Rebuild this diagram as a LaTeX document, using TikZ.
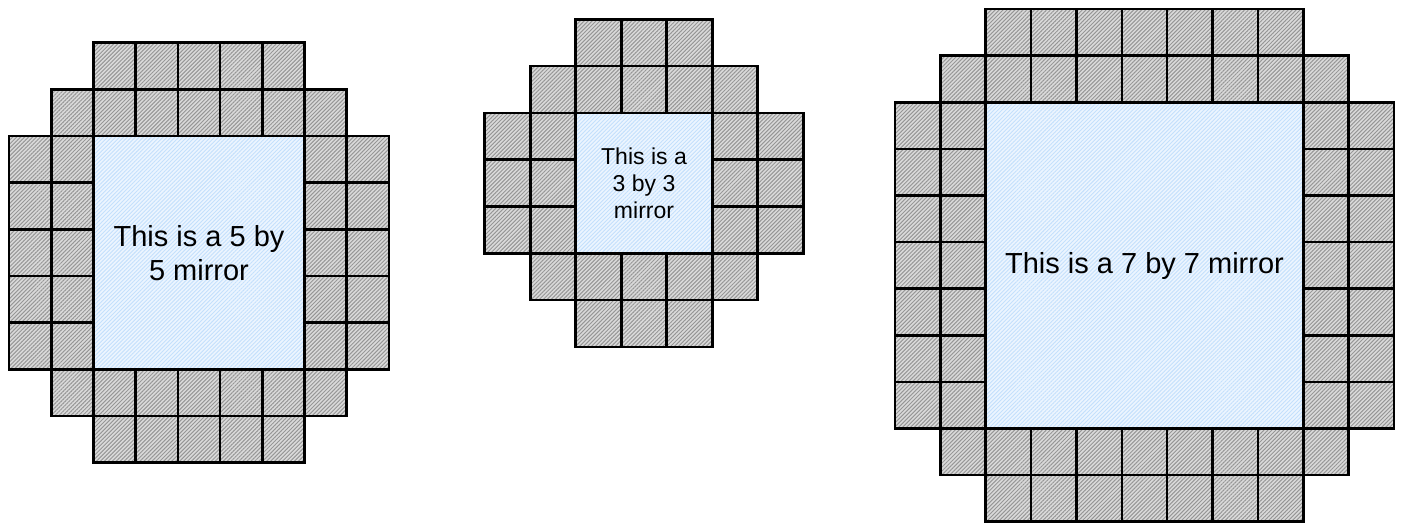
\documentclass[tikz,border=0pt]{standalone}
\usepackage{fontspec}
\setmainfont{Liberation Sans}
\usetikzlibrary{patterns.meta}

\definecolor{cellgray}{RGB}{218,218,218}
\definecolor{hatchgray}{RGB}{150,150,150}
\definecolor{mirrorblue}{RGB}{236,245,255}
\definecolor{hatchblue}{RGB}{196,224,252}

\tikzset{
    cell/.style={draw=black, line width=2.6pt, preaction={fill=cellgray},
        pattern={Lines[angle=45,distance=2.8pt,line width=1pt]}, pattern color=hatchgray},
    glass/.style={draw=black, line width=2.6pt, preaction={fill=mirrorblue},
        pattern={Lines[angle=45,distance=2.8pt,line width=0.9pt]}, pattern color=hatchblue},
    caption/.style={align=center, text=black, inner sep=0pt}
}

% left, top, cell width, cell height, mirror size
\newcommand{\mirrorgrid}[5]{%
    \pgfmathtruncatemacro\mlast{#5+3}
    \foreach \r in {0,...,\mlast} {
        \foreach \c in {0,...,\mlast} {
            \pgfmathtruncatemacro\dr{min(\r,\mlast-\r)}
            \pgfmathtruncatemacro\dc{min(\c,\mlast-\c)}
            \pgfmathtruncatemacro\keep{and(\dr+\dc>=2, or(\dr<2,\dc<2))}
            \ifnum\keep=1
                \path[cell] ({#1+\c*#3},{#2+\r*#4}) rectangle ++(#3,#4);
            \fi
        }
    }
    \path[glass] ({#1+2*#3},{#2+2*#4}) rectangle ++({#5*#3},{#5*#4});
}

\begin{document}
\begin{tikzpicture}[x=1pt, y=-1pt]
    \useasboundingbox (0,0) rectangle (1402,522);

    % 5 by 5 mirror
    \mirrorgrid{9}{42.7}{42.2}{46.67}{5}
    \node[caption, font=\fontsize{29}{34}\selectfont] (label5) at (199,253) {This is a 5 by\\5 mirror};

    % 3 by 3 mirror
    \mirrorgrid{484.7}{19.3}{45.5}{46.8}{3}
    \node[caption, font=\fontsize{23}{27}\selectfont] (label3) at (644,183) {This is a\\3 by 3\\mirror};

    % 7 by 7 mirror
    \mirrorgrid{895}{9}{45.36}{46.6}{7}
    \node[caption, font=\fontsize{29}{34}\selectfont] (label7) at (1144.5,265.5) {This is a 7 by 7 mirror};

\end{tikzpicture}
\end{document}
